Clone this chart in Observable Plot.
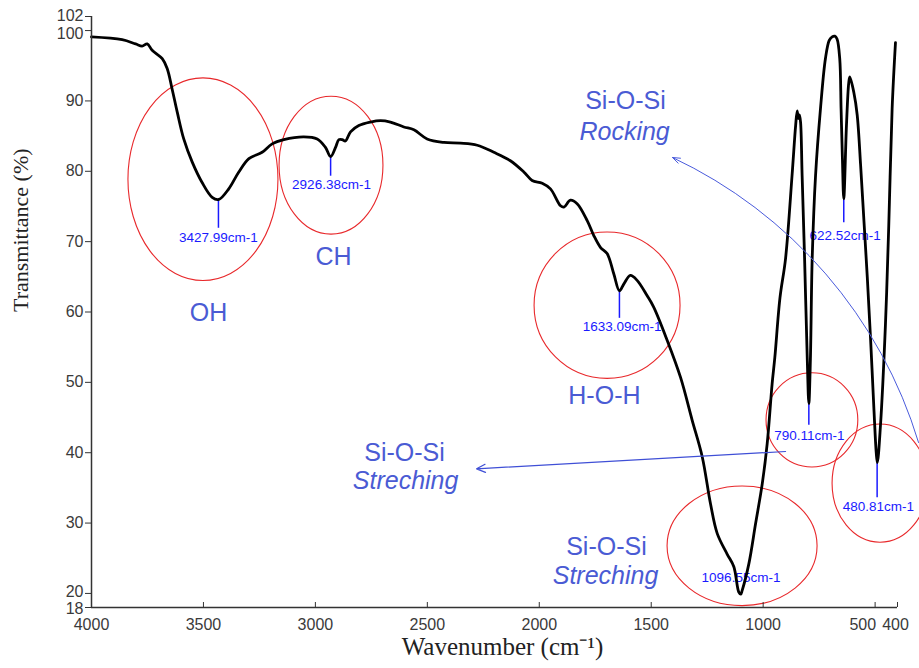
<!DOCTYPE html>
<html><head><meta charset="utf-8">
<script src="https://cdn.jsdelivr.net/npm/d3@7"></script>
<script src="https://cdn.jsdelivr.net/npm/@observablehq/plot@0.6"></script>
<style>body{margin:0;background:#fff}</style>
</head><body><div id="chart"></div>
<script>
// FTIR spectrum
const wavenumber = [4000,3863,3803,3774,3751,3729,3684,3662,3640,3617,3588,3550,3506,3461,3431,3387,3342,3297,3238,3193,3141,3052,2992,2955,2932,2910,2895,2880,2866,2843,2806,2754,2709,2665,2605,2560,2501,2426,2352,2277,2203,2129,2069,2032,1987,1950,1905,1890,1861,1831,1786,1757,1727,1697,1667,1642,1622,1593,1563,1518,1489,1429,1369,1317,1272,1235,1205,1161,1131,1109,1100,1094,1064,1034,1004,982,960,948,925,900,871,855,848,843,838,833,826,815,803,796,789,781,766,744,722,705,692,680,670,658,652,646,640,628,618,613,595,580,565,550,535,520,505,495,490,476,454,439,424,409];
const transmittance = [99.1,98.7,98.1,97.8,98.1,97.2,96.0,94.6,91.7,88.4,84.6,81.3,78.4,76.3,76.0,77.5,79.9,81.8,82.7,83.9,84.5,84.9,84.6,83.4,82.1,83.4,84.5,84.5,84.3,85.6,86.5,87.0,87.2,87.0,86.3,85.9,84.6,84.1,84.0,83.7,82.7,81.5,79.9,78.7,78.3,77.5,75.1,74.9,75.9,75.4,73.0,70.9,69.2,68.3,65.4,63.0,64.0,65.2,64.5,62.3,60.7,56.0,50.7,44.6,39.4,32.7,28.5,25.6,23.8,20.2,19.9,20.4,24.2,29.9,35.6,41.3,49.8,53.5,62.0,67.6,79.4,86.5,88.6,87.5,88.0,87.0,79.4,67.6,53.3,47.0,53.3,67.6,79.4,88.9,96.0,98.6,99.1,99.2,98.8,96.0,88.9,81.8,76.1,86.5,92.5,93.4,91.2,88.0,81.0,73.0,65.0,56.0,46.0,40.0,38.6,43.9,58.1,72.3,88.9,98.3];

const xTicks = [4000,3500,3000,2500,2000,1500,1000,500,400];
const yTicks = [18,20,30,40,50,60,70,80,90,100,102];

// Peak labels
const peakText = ["3427.99cm-1","2926.38cm-1","1633.09cm-1","622.52cm-1","790.11cm-1","480.81cm-1","1096.55cm-1"];
const peakTextX = [3433,2928,1630,634,794,485,1099];
const peakTextY = [70.6,78.1,57.9,70.9,42.45,32.4,22.3];
const peakLineX = [3433,2932,1642,640,796,491];
const peakLineY1 = [76.0,82.1,62.9,76.6,47.1,38.5];
const peakLineY2 = [71.9,79.3,59.1,72.7,43.9,33.6];

// Band names
const bandText = ["OH","CH","H-O-H","Si-O-Si","Rocking","Si-O-Si","Streching","Si-O-Si","Streching"];
const bandX = [3477,2919,1709,1615,1619,2602,2597,1700,1704];
const bandY = [59.9,67.75,48.0,90.06,85.65,40.03,35.91,26.67,22.41];
const bandItalic = [false,false,false,false,true,false,true,false,true];

// Red ellipses: centre and radii in data units
const ringX = [3500,2928,1695,780,476,1092];
const ringY = [78.8,80.8,60.9,44.6,35.6,26.7];
const ringRx = [335,232,326,205,214,335];
const ringRy = [14.4,9.8,10.4,6.7,8.4,8.5];

// Arrows
const straightArrow = {x1: 900, y1: 40.17, x2: 2280, y2: 37.71};
const curvedArrow = {x1: 306, y1: 41.45, x2: 1405, y2: 81.96};

const spectrum = wavenumber.map((w, i) => ({w, t: transmittance[i]}));
const peaks = peakText.map((s, i) => ({s, x: peakTextX[i], y: peakTextY[i]}));
const peakLines = peakLineX.map((x, i) => ({x, y1: peakLineY1[i], y2: peakLineY2[i]}));
const bands = bandText.map((s, i) => ({s, x: bandX[i], y: bandY[i], it: bandItalic[i]}));

const blueLabel = "#4a5bd4";
const sans = "'Liberation Sans', Arial, sans-serif";
const serif = "'Liberation Serif', 'Times New Roman', serif";
const tickColor = "#3a3a3a";

function rings(index, scales) {
  const g = d3.create("svg:g");
  ringX.forEach((cx, i) => {
    const px = scales.x(cx), py = scales.y(ringY[i]);
    const rx = Math.abs(scales.x(cx + ringRx[i]) - px);
    const ry = Math.abs(scales.y(ringY[i] + ringRy[i]) - py);
    g.append("ellipse").attr("cx", px).attr("cy", py).attr("rx", rx).attr("ry", ry)
      .attr("fill", "none").attr("stroke", "#e8282b").attr("stroke-width", 1.1);
  });
  return g.node();
}

const yText = (ticks, dy) => Plot.axisY(ticks, {tickSize: 0, tickPadding: 8, fontSize: 16, fill: tickColor, stroke: "none", label: null, dy});
const xText = (ticks, opts) => Plot.axisX(ticks, {tickSize: 0, tickPadding: 11, fontSize: 16, fill: tickColor, stroke: "none", label: null, tickFormat: d => String(d), ...opts});

const chart = Plot.plot({
  width: 919, height: 668,
  marginLeft: 91, marginRight: 22, marginTop: 16, marginBottom: 61,
  style: {fontFamily: sans, background: "white", overflow: "visible"},
  x: {domain: [4000, 400], label: null},
  y: {domain: [18, 102], label: null},
  marks: [
    rings,
    Plot.ruleX(peakLines, {x: "x", y1: "y1", y2: "y2", stroke: "#1a1aff", strokeWidth: 1.5}),
    Plot.text(peaks, {x: "x", y: "y", text: "s", fill: "#1a1aff", fontSize: 13.5, fontFamily: sans}),
    Plot.line(spectrum, {x: "w", y: "t", stroke: "black", strokeWidth: 2.8, strokeLinejoin: "round", curve: "catmull-rom"}),
    Plot.text(bands.filter(d => !d.it), {x: "x", y: "y", text: "s", fill: blueLabel, fontSize: 25, fontFamily: sans}),
    Plot.text(bands.filter(d => d.it), {x: "x", y: "y", text: "s", fill: blueLabel, fontSize: 25, fontStyle: "italic", fontFamily: sans}),
    Plot.arrow([straightArrow], {x1: "x1", y1: "y1", x2: "x2", y2: "y2", stroke: "#3f4fd6", strokeWidth: 1.2, headLength: 12, headAngle: 50}),
    Plot.arrow([curvedArrow], {x1: "x1", y1: "y1", x2: "x2", y2: "y2", bend: -24, stroke: "#4a5bdc", strokeWidth: 1, headLength: 12, headAngle: 40}),
    // y ticks (marks only) and their labels
    Plot.axisY(yTicks, {tickSize: 6, fill: "none", stroke: "#333", label: null}),
    yText(yTicks.filter(d => d >= 30 && d <= 90), 0),
    yText([100], 3),
    yText([102], -1),
    yText([20], -1.5),
    yText([18], 1.5),
    // x tick labels
    xText(xTicks.filter(d => d !== 500 && d !== 400), {}),
    xText([500], {textAnchor: "end", dx: 1}),
    xText([400], {dx: -2}),
    Plot.ruleX(xTicks, {insetTop: 586, stroke: "#333"}),
    Plot.ruleX([4000], {stroke: "#333", strokeWidth: 1.5}),
    Plot.ruleY([18], {stroke: "#333", strokeWidth: 1.5}),
    Plot.text(["Wavenumber (cm\u207B\u00B9)"], {frameAnchor: "bottom", dy: 47, dx: 8, fontSize: 25, fontFamily: serif, fill: "#222"}),
    Plot.text(["Transmittance (%)"], {frameAnchor: "left", dx: -71, rotate: -90, fontSize: 22, fontFamily: serif, fill: "#222"})
  ]
});
document.getElementById("chart").appendChild(chart);
</script>
</body></html>
